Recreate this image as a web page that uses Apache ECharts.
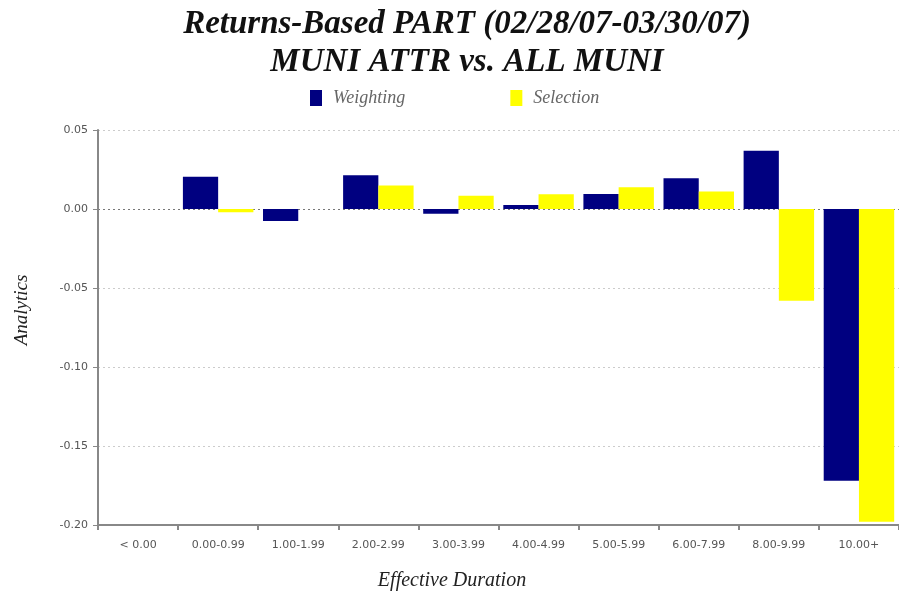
<!DOCTYPE html>
<html><head><meta charset="utf-8">
<script src="https://cdn.jsdelivr.net/npm/echarts@6/dist/echarts.min.js"></script>
<style>html,body{margin:0;padding:0;background:#fff}#c{width:899px;height:593px}</style>
</head><body><div id="c"></div>
<script>
const categories = ['< 0.00','0.00-0.99','1.00-1.99','2.00-2.99','3.00-3.99','4.00-4.99','5.00-5.99','6.00-7.99','8.00-9.99','10.00+'];
const weighting = [0, 0.0204, -0.0076, 0.0214, -0.003, 0.0026, 0.0095, 0.0194, 0.0368, -0.172];
const selection = [0, -0.002, 0, 0.0148, 0.0084, 0.0093, 0.0137, 0.011, -0.058, -0.198];
const yTicks = {min: -0.2, max: 0.05, interval: 0.05};

const chart = echarts.init(document.getElementById('c'));
const serif = 'Liberation Serif';
chart.setOption({
  animation: false,
  backgroundColor: '#fff',
  title: [{
    text: 'Returns-Based PART (02/28/07-03/30/07)\nMUNI ATTR vs. ALL MUNI',
    left: 462, textAlign: 'center', top: 0,
    textStyle: {fontFamily: serif, fontStyle: 'italic', fontWeight: 'bold', fontSize: 33, lineHeight: 38, color: '#111'}
  }, {
    text: 'Effective Duration', left: 447, textAlign: 'center', top: 566,
    textStyle: {fontFamily: serif, fontStyle: 'italic', fontWeight: 'normal', fontSize: 20, color: '#222'}
  }],
  graphic: [{
    type: 'text', x: 12, y: 310, rotation: Math.PI / 2,
    style: {text: 'Analytics', font: 'italic 19px "Liberation Serif"', fill: '#222',
      align: 'center', verticalAlign: 'top'}
  }],
  legend: {
    left: 305, top: 84, itemWidth: 12, itemHeight: 16, itemGap: 105,
    icon: 'rect',
    textStyle: {fontFamily: serif, fontStyle: 'italic', fontSize: 18, color: '#666', padding: [0, 0, 0, 6]},
    data: ['Weighting','Selection']
  },
  grid: {left: 98, top: 130, right: 0, bottom: 68},
  xAxis: {
    type: 'category', data: categories,
    position: 'bottom',
    axisLine: {onZero: false, lineStyle: {color: '#888', width: 2}},
    axisTick: {show: true, length: 5, lineStyle: {color: '#888', width: 2}},
    axisLabel: {fontFamily: 'DejaVu Sans', fontSize: 11, color: '#555', margin: 15},
    splitLine: {show: false}
  },
  yAxis: {
    type: 'value', min: yTicks.min, max: yTicks.max, interval: yTicks.interval,
    axisLine: {show: true, lineStyle: {color: '#888', width: 2}},
    axisTick: {show: true, length: 5, lineStyle: {color: '#888', width: 1}},
    axisLabel: {fontFamily: 'DejaVu Sans', fontSize: 11, color: '#555', margin: 10,
      formatter: v => v.toFixed(2)},
    splitLine: {show: true, lineStyle: {type: [2, 3], width: 1,
      color: ['#ccc', '#ccc', '#ccc', '#ccc', '#777', '#ccc']}}
  },
  series: [
    {name: 'Weighting', type: 'bar', data: weighting, itemStyle: {color: '#000080'},
     barGap: '0%', barCategoryGap: '12%'},
    {name: 'Selection', type: 'bar', data: selection, itemStyle: {color: '#ffff00'},
     barGap: '0%', barCategoryGap: '12%'}
  ]
});
</script></body></html>
